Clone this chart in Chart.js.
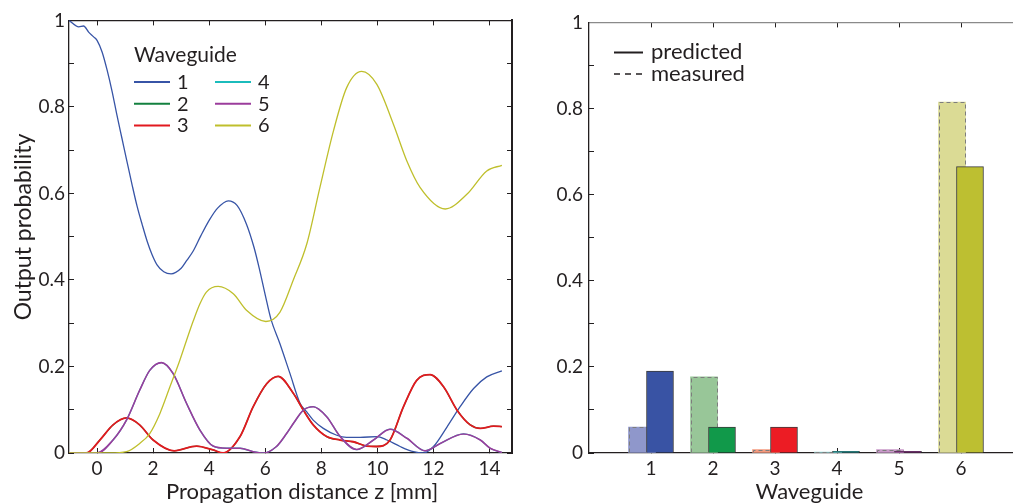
<!DOCTYPE html>
<html>
<head>
<meta charset="utf-8">
<script src="https://cdn.jsdelivr.net/npm/chart.js@4.4.0/dist/chart.umd.min.js"></script>
<style>
  html, body { margin: 0; padding: 0; background: #fff; overflow: hidden; width: 1013px; height: 503px; }
  canvas { position: absolute; top: 0; }
  #evolution { left: 0; }
  #outputs { left: 530px; }
</style>
</head>
<body>
<canvas id="evolution" width="530" height="503"></canvas>
<canvas id="outputs" width="510" height="503"></canvas>
<script>
// output probability of each guide along the propagation distance z [mm]
const z1 = [-1, -0.65, -0.48, -0.3, -0.12, 0, 0.18, 0.36, 0.54, 0.71, 0.89, 1.07, 1.25, 1.43, 1.61, 1.79, 1.96, 2.14, 2.38, 2.64, 3.0, 3.2, 3.43, 3.7, 4.02, 4.3, 4.68, 5.0, 5.33, 5.6, 5.81, 6.0, 6.2, 6.52, 6.88, 7.24, 7.48, 7.71, 8.07, 8.55, 8.9, 9.38, 9.98, 10.34, 10.81, 11.29, 11.64, 12.0, 12.48, 12.95, 13.43, 13.9, 14.44];
const p1 = [1.0, 0.985, 0.987, 0.973, 0.962, 0.954, 0.927, 0.885, 0.835, 0.781, 0.727, 0.673, 0.62, 0.57, 0.528, 0.489, 0.459, 0.435, 0.419, 0.414, 0.427, 0.445, 0.467, 0.502, 0.54, 0.566, 0.583, 0.572, 0.529, 0.475, 0.42, 0.365, 0.31, 0.253, 0.184, 0.115, 0.095, 0.076, 0.057, 0.041, 0.036, 0.036, 0.038, 0.03, 0.015, 0.003, 0.0, 0.015, 0.06, 0.107, 0.149, 0.176, 0.19];

const z3 = [-1, -0.38, 0.1, 0.57, 1.05, 1.52, 2.0, 2.75, 3.55, 4.14, 4.5, 5.1, 5.57, 6.05, 6.46, 7.0, 7.36, 7.71, 8.19, 8.67, 9.14, 9.62, 9.98, 10.45, 10.93, 11.4, 11.88, 12.36, 12.84, 13.31, 13.67, 14.14, 14.44];
const p3 = [0, 0, 0.03, 0.065, 0.081, 0.065, 0.03, 0.005, 0.016, 0.007, 0, 0.038, 0.107, 0.16, 0.177, 0.138, 0.099, 0.065, 0.038, 0.03, 0.026, 0.016, 0.015, 0.03, 0.107, 0.168, 0.181, 0.153, 0.099, 0.065, 0.057, 0.062, 0.061];

const z5 = [-1, 0, 0.57, 1.05, 1.52, 1.88, 2.3, 2.71, 3.19, 3.67, 4.14, 4.62, 5.1, 5.57, 5.93, 6.4, 6.76, 7.0, 7.36, 7.71, 8.19, 8.67, 9.26, 9.86, 10.45, 11.05, 11.7, 12.24, 13.07, 13.67, 14.02, 14.44];
const p5 = [0, 0, 0.03, 0.076, 0.145, 0.191, 0.209, 0.184, 0.115, 0.053, 0.016, 0.011, 0.011, 0.003, 0, 0.015, 0.045, 0.068, 0.099, 0.107, 0.084, 0.038, 0.008, 0.03, 0.055, 0.034, 0.005, 0.022, 0.044, 0.03, 0.011, 0.001];

const z6 = [-1, 0.46, 1.05, 1.52, 1.88, 2.24, 2.6, 2.95, 3.19, 3.43, 3.67, 3.9, 4.32, 4.86, 5.33, 6.02, 6.52, 7.0, 7.48, 7.95, 8.43, 8.9, 9.44, 9.98, 10.57, 11.05, 11.52, 12.42, 13.19, 13.9, 14.44];
const p6 = [0, 0, 0.003, 0.022, 0.045, 0.091, 0.153, 0.214, 0.26, 0.305, 0.345, 0.372, 0.385, 0.368, 0.33, 0.304, 0.325, 0.4, 0.483, 0.614, 0.744, 0.844, 0.882, 0.852, 0.76, 0.675, 0.614, 0.564, 0.598, 0.652, 0.665];

// guides 2 and 4 follow 3 and 5 exactly, so they sit underneath them
const z2 = z3, p2 = p3;
const z4 = z5, p4 = p5;

// measured vs predicted output distribution at the end of the array
const guides = [1, 2, 3, 4, 5, 6];
const measured = [0.06, 0.177, 0.008, 0.002, 0.008, 0.815];
const predicted = [0.19, 0.06, 0.06, 0.004, 0.004, 0.665];

const zTicks = [0, 2, 4, 6, 8, 10, 12, 14];
const pTicks = [0, 0.1, 0.2, 0.3, 0.4, 0.5, 0.6, 0.7, 0.8, 0.9, 1];
const pLabels = ['0', '', '0.2', '', '0.4', '', '0.6', '', '0.8', '', '1'];

const ink = '#231f20';
const lineColors = ['#3754a6', '#13803f', '#e2191f', '#1bbcbc', '#9b3c9c', '#bfbf2c'];
const predictedColors = ['#3953a4', '#11994a', '#ec1c24', '#17b3b4', '#92278f', '#bdbf31'];
const measuredColors = ['#8f97cb', '#98c698', '#f49a7e', '#96d5d5', '#c999c9', '#dbdb95'];
const pairShift = 0.145; // half the gap between the two bars of a pair, in guide units

Chart.defaults.font.family = 'Lato';
Chart.defaults.color = ink;

// axis titles, drawn by hand so they can sit off-centre
const captions = {
  id: 'captions',
  afterDraw(chart, args, opts) {
    const ctx = chart.ctx;
    ctx.save();
    ctx.fillStyle = ink;
    ctx.textAlign = 'center';
    opts.items.forEach(c => {
      ctx.save();
      ctx.font = c.size + 'px Lato';
      ctx.translate(c.x, c.y);
      ctx.rotate(c.rotate || 0);
      ctx.fillText(c.text, 0, 0);
      ctx.restore();
    });
    ctx.restore();
  }
};

// two-column key for the six guides
const guideKey = {
  id: 'guideKey',
  afterDraw(chart) {
    const ctx = chart.ctx;
    ctx.save();
    ctx.fillStyle = ink;
    ctx.font = '21px Lato';
    ctx.fillText('Waveguide', 134, 62);
    ctx.font = '20px Lato';
    chart.data.datasets.forEach((ds, i) => {
      const x = 134 + Math.floor(i / 3) * 81;
      const y = 82 + (i % 3) * 21.7;
      ctx.strokeStyle = ds.borderColor;
      ctx.lineWidth = 2;
      ctx.beginPath();
      ctx.moveTo(x, y);
      ctx.lineTo(x + 36, y);
      ctx.stroke();
      ctx.fillText(ds.label, x + 43, y + 7);
    });
    ctx.restore();
  }
};

// line style key: solid = predicted, dashed = measured
const styleKey = {
  id: 'styleKey',
  afterDraw(chart) {
    const ctx = chart.ctx;
    ctx.save();
    ctx.fillStyle = ink;
    ctx.strokeStyle = ink;
    ctx.font = '22px Lato';
    ctx.lineWidth = 2;
    ctx.beginPath();
    ctx.moveTo(84, 52.5);
    ctx.lineTo(113, 52.5);
    ctx.stroke();
    ctx.fillText('predicted', 121, 58.5);
    ctx.lineWidth = 1.3;
    ctx.setLineDash([6, 5]);
    ctx.beginPath();
    ctx.moveTo(84, 74);
    ctx.lineTo(113, 74);
    ctx.stroke();
    ctx.setLineDash([]);
    ctx.fillText('measured', 121, 81);
    ctx.restore();
  }
};

// bar element has no dash option, so outline the measured bars here
const dashedOutline = {
  id: 'dashedOutline',
  afterDatasetDraw(chart, args) {
    if (chart.data.datasets[args.index].label !== 'measured') return;
    const ctx = chart.ctx;
    ctx.save();
    ctx.strokeStyle = '#7d7d7d';
    ctx.lineWidth = 1;
    ctx.setLineDash([4, 3]);
    args.meta.data.forEach(bar => {
      const {x, y, base, width} = bar.getProps(['x', 'y', 'base', 'width'], true);
      const l = Math.round(x - width / 2) + 0.5;
      const r = Math.round(x + width / 2) - 0.5;
      const t = Math.round(y) + 0.5;
      ctx.beginPath();
      ctx.moveTo(l, base);
      ctx.lineTo(l, t);
      ctx.lineTo(r, t);
      ctx.lineTo(r, base);
      ctx.stroke();
    });
    ctx.restore();
  }
};

function inwardGrid() {
  return { drawOnChartArea: false, tickLength: -5, color: ink, lineWidth: 1, offset: false };
}

const curves = [[z1, p1], [z2, p2], [z3, p3], [z4, p4], [z5, p5], [z6, p6]];
const lineSets = curves.map(([z, p], i) => ({
  label: String(guides[i]),
  data: z.map((v, j) => ({ x: v, y: p[j] })),
  borderColor: lineColors[i],
  borderWidth: i === 2 ? 1.8 : (i === 4 ? 1.6 : 1.3),
  pointRadius: 0,
  cubicInterpolationMode: 'monotone',
  order: 6 - i
}));

new Chart(document.getElementById('evolution'), {
  type: 'line',
  data: { datasets: lineSets },
  options: {
    responsive: false,
    animation: false,
    layout: { padding: { top: 19, right: 18, bottom: 0, left: 0 } },
    plugins: {
      legend: { display: false },
      tooltip: { enabled: false },
      captions: {
        items: [
          { text: 'Output probability', x: 30.5, y: 227, size: 23, rotate: -Math.PI / 2 },
          { text: 'Propagation distance z [mm]', x: 302, y: 499, size: 22 }
        ]
      }
    },
    scales: {
      x: {
        type: 'linear', min: -1, max: 14.8,
        afterBuildTicks: s => { s.ticks = zTicks.map(v => ({ value: v })); },
        afterFit: s => { s.height = 50; },
        ticks: { font: { size: 19 }, padding: 9, maxRotation: 0, autoSkip: false, callback: v => String(v) },
        grid: inwardGrid(),
        border: { color: ink, width: 1.3 }
      },
      xTop: {
        type: 'linear', position: 'top', min: -1, max: 14.8,
        afterBuildTicks: s => { s.ticks = zTicks.map(v => ({ value: v })); },
        afterFit: s => { s.height = 0; },
        ticks: { display: false },
        grid: inwardGrid(),
        border: { color: ink, width: 1.3 }
      },
      y: {
        min: 0, max: 1,
        afterBuildTicks: s => { s.ticks = pTicks.map(v => ({ value: v })); },
        afterFit: s => { s.width = 69; },
        ticks: { font: { size: 19 }, padding: 9, autoSkip: false, callback: (v, i) => pLabels[i] },
        grid: inwardGrid(),
        border: { color: ink, width: 1.3 }
      },
      yRight: {
        position: 'right', min: 0, max: 1,
        afterBuildTicks: s => { s.ticks = pTicks.map(v => ({ value: v })); },
        afterFit: s => { s.width = 0; },
        ticks: { display: false },
        grid: inwardGrid(),
        border: { color: ink, width: 2 }
      }
    }
  },
  plugins: [captions, guideKey]
});

// each bar sits on its own hidden axis, nudged left (measured) or right (predicted)
new Chart(document.getElementById('outputs'), {
  type: 'bar',
  data: {
    datasets: [
      {
        label: 'predicted',
        data: guides.map((g, i) => ({ x: g, y: predicted[i] })),
        xAxisID: 'xPred',
        grouped: false,
        backgroundColor: predictedColors,
        borderColor: '#3b3b3b',
        borderWidth: 1,
        barThickness: 27
      },
      {
        label: 'measured',
        data: guides.map((g, i) => ({ x: g, y: measured[i] })),
        xAxisID: 'xMeas',
        grouped: false,
        backgroundColor: measuredColors,
        borderWidth: 0,
        barThickness: 27
      }
    ]
  },
  options: {
    responsive: false,
    animation: false,
    layout: { padding: { top: 19, right: 17, bottom: 0, left: 0 } },
    plugins: {
      legend: { display: false },
      tooltip: { enabled: false },
      captions: { items: [{ text: 'Waveguide', x: 279.5, y: 499, size: 22 }] }
    },
    scales: {
      x: {
        type: 'linear', min: 0, max: 7, offset: false,
        afterBuildTicks: s => { s.ticks = guides.map(v => ({ value: v })); },
        afterFit: s => { s.height = 50; },
        ticks: { font: { size: 19 }, padding: 9, maxRotation: 0, autoSkip: false, callback: v => String(v) },
        grid: inwardGrid(),
        border: { color: ink, width: 1.3 }
      },
      xTop: {
        type: 'linear', position: 'top', min: 0, max: 7, offset: false,
        afterBuildTicks: s => { s.ticks = guides.map(v => ({ value: v })); },
        afterFit: s => { s.height = 0; },
        ticks: { display: false },
        grid: inwardGrid(),
        border: { color: '#8a8a8a', width: 1.3 }
      },
      xPred: { type: 'linear', display: false, offset: false, grid: { offset: false }, min: -pairShift, max: 7 - pairShift },
      xMeas: { type: 'linear', display: false, offset: false, grid: { offset: false }, min: pairShift, max: 7 + pairShift },
      y: {
        min: 0, max: 1,
        afterBuildTicks: s => { s.ticks = pTicks.map(v => ({ value: v })); },
        afterFit: s => { s.width = 59; },
        ticks: { font: { size: 19 }, padding: 11, autoSkip: false, callback: (v, i) => pLabels[i] },
        grid: inwardGrid(),
        border: { color: ink, width: 1.3 }
      }
    }
  },
  plugins: [captions, styleKey, dashedOutline]
});
</script>
</body>
</html>
